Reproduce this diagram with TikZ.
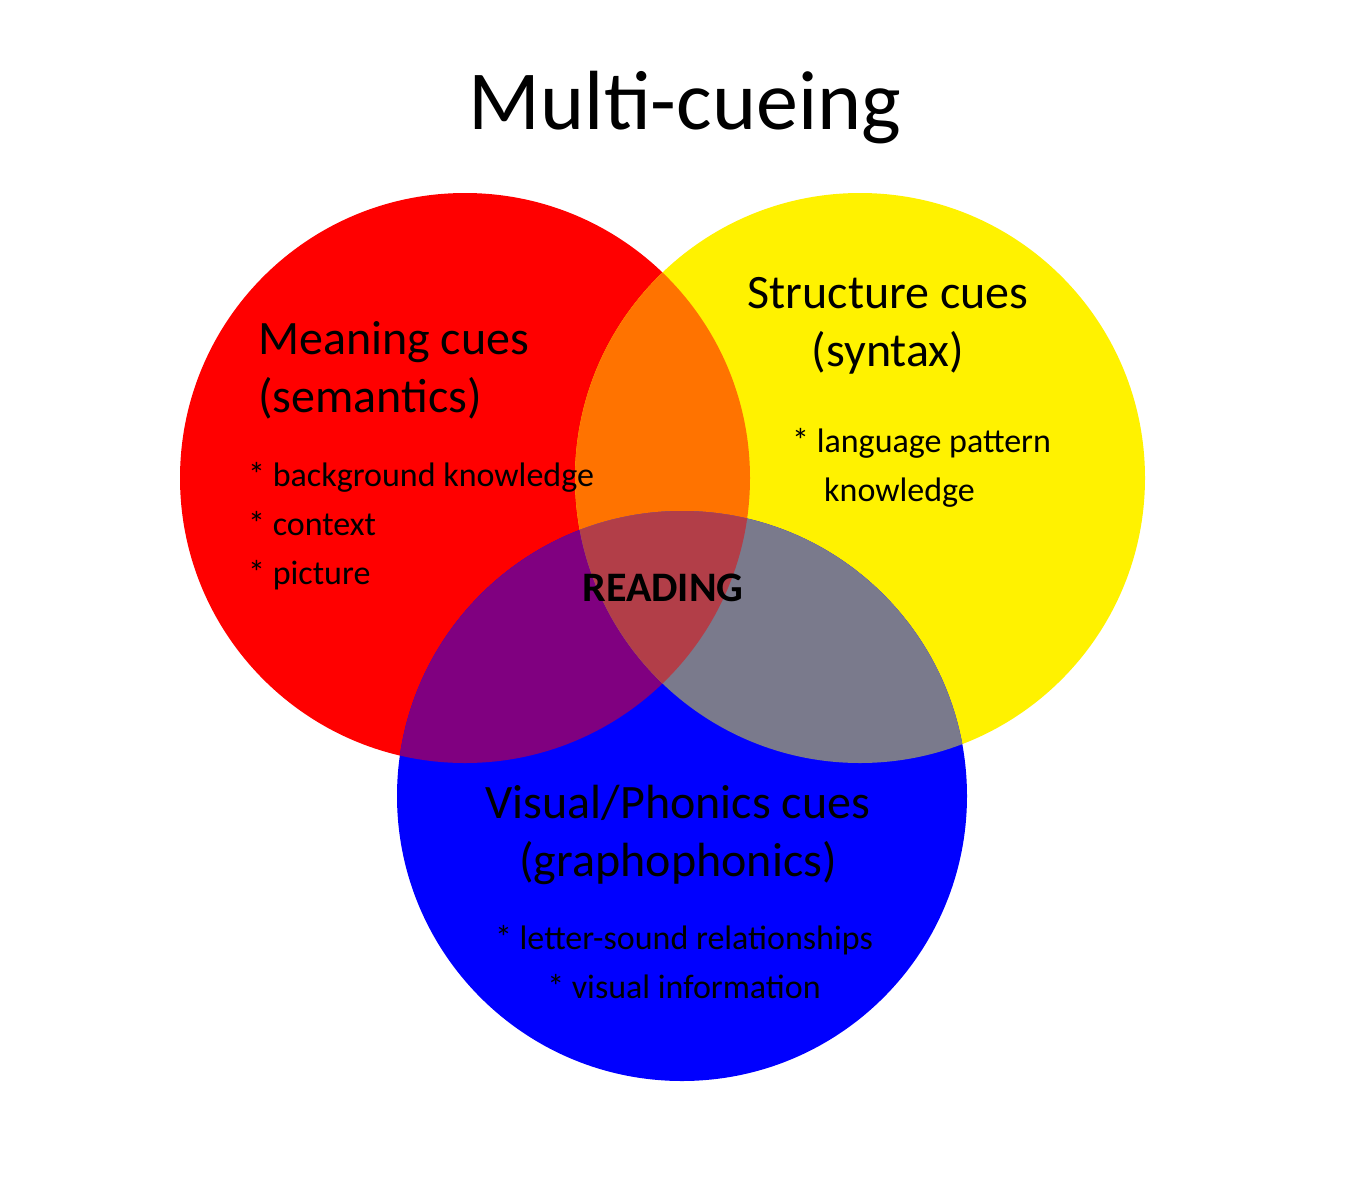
\documentclass[tikz,border=0pt]{standalone}
\usepackage{fontspec}
\setmainfont{Carlito}
\begin{document}
\begin{tikzpicture}[x=1pt,y=-1pt,
 head/.style={font=\fontsize{48}{58}\selectfont,align=center,inner sep=0},
 bul/.style={font=\fontsize{34}{49}\selectfont,align=left,inner sep=0,anchor=north west}]
\useasboundingbox (0,0) rectangle (1358,1200);
\fill[white] (0,0) rectangle (1358,1200);
\def\R{(465,478) circle (285)}
\def\Y{(860,478) circle (285)}
\def\B{(682,796) circle (285)}
\fill[red] \R;
\fill[yellow] \Y;
\fill[blue] \B;
\begin{scope}\clip \R; \fill[orange!90!red] \Y; \end{scope}
\begin{scope}\clip \R; \fill[red!50!blue] \B; \end{scope}
\begin{scope}\clip \Y; \fill[color={rgb,255:red,122;green,122;blue,140}] \B; \end{scope}
\begin{scope}\clip \R; \clip \Y; \fill[color={rgb,255:red,178;green,62;blue,72}] \B; \end{scope}
\node[font=\fontsize{84}{90}\selectfont,inner sep=0] (title) at (685,108) {Multi-cueing};
\node[head,anchor=west,align=left] (m) at (258,370) {Meaning cues\\(semantics)};
\node[bul] (mb) at (248,462) {* background knowledge\\* context\\* picture};
\node[head] (s) at (888,326) {Structure cues\\(syntax)};
\node[bul] (sb) at (792,428) {* language pattern\\\hspace*{32pt}knowledge};
\node[font=\bfseries\fontsize{42}{50}\selectfont,inner sep=0] (r) at (663,588) {READING};
\node[head] (v) at (678,835) {Visual/Phonics cues\\(graphophonics)};
\node[bul,align=center,anchor=north] (vb) at (684,925) {* letter-sound relationships\\* visual information};
\end{tikzpicture}
\end{document}
